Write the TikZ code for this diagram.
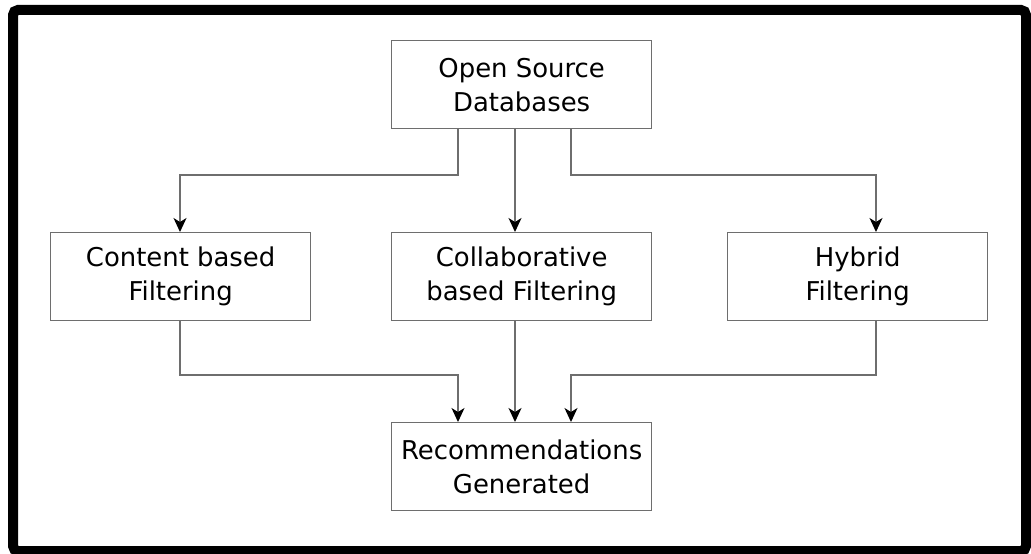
\documentclass[tikz,border=0pt]{standalone}
\usepackage{fontspec}
\setmainfont{DejaVu Sans}
\usetikzlibrary{arrows.meta}
\definecolor{edgegray}{RGB}{110,110,110}
\begin{document}
\begin{tikzpicture}[x=1bp,y=-1bp,
  box/.style={draw=edgegray, line width=1.3bp, minimum width=260bp, minimum height=88bp,
    inner sep=0pt, align=center, anchor=north west,
    font=\fontsize{26}{34}\selectfont, text=black},
  link/.style={draw=edgegray, line width=1.3bp,
    -{Stealth[length=14bp,width=13bp,inset=4bp,color=black]}}]
\useasboundingbox (0,0) rectangle (1031,554);
\fill[white] (0,0) rectangle (1031,554);
% outer frame
\draw[line width=10bp, rounded corners=5bp] (13,10) rectangle (1026,551);

% boxes
\node[box] (db)  at (391,40)  {Open Source\\Databases};
\node[box] (cbf) at (50,232)  {Content based\\Filtering};
\node[box] (col) at (391,232) {Collaborative\\based Filtering};
\node[box] (hyb) at (727,232) {Hybrid\\Filtering};
\node[box] (rec) at (391,422) {Recommendations\\Generated};

% columns and rows used by the connectors
\coordinate (t1) at (458,0);
\coordinate (t2) at (515,0);
\coordinate (t3) at (571,0);
\coordinate (s1) at (180,0);
\coordinate (s2) at (876,0);
\coordinate (ya) at (0,175);
\coordinate (yb) at (0,375);

% from the database to the three filters
\draw[link] (db.south -| t1) -- (t1 |- ya) -| (cbf.north -| s1);
\draw[link] (db.south -| t2) -- (col.north -| t2);
\draw[link] (db.south -| t3) -- (t3 |- ya) -| (hyb.north -| s2);

% from the filters to the recommendations
\draw[link] (cbf.south -| s1) -- (s1 |- yb) -| (rec.north -| t1);
\draw[link] (col.south -| t2) -- (rec.north -| t2);
\draw[link] (hyb.south -| s2) -- (s2 |- yb) -| (rec.north -| t3);
\end{tikzpicture}
\end{document}
